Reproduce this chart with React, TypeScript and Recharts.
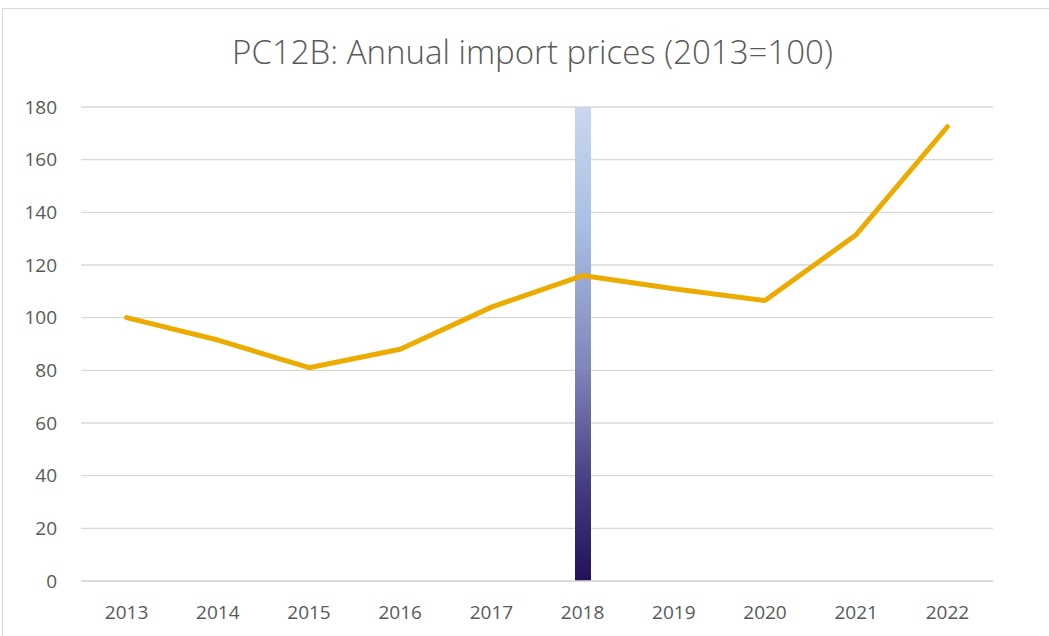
import { ComposedChart, XAxis, YAxis, CartesianGrid, Line, Bar } from "recharts";

const years = ["2013", "2014", "2015", "2016", "2017", "2018", "2019", "2020", "2021", "2022"];
const importPrices = [100, 91.5, 81, 88, 104, 116, 111, 106.5, 131.5, 172.5];
// highlight column drawn at 2018 only
const marker = [null, null, null, null, null, 180, null, null, null, null];
const yTicks = [0, 20, 40, 60, 80, 100, 120, 140, 160, 180];

const data = years.map((year, i) => ({
  year,
  price: importPrices[i],
  marker: marker[i],
}));

const tickStyle = { fill: "#595959", fontSize: 19, fontFamily: "Open Sans" };

export default function App() {
  return (
    <div style={{ position: "absolute", left: 0, top: 0, width: 1049, height: 636, background: "#fff" }}>
      <div
        style={{
          position: "absolute",
          left: 2,
          top: 8,
          width: 1060,
          height: 640,
          border: "1px solid #d9d9d9",
        }}
      />
      <div
        style={{
          position: "absolute",
          left: 0,
          top: 30,
          width: 1065,
          textAlign: "center",
          fontFamily: "Open Sans",
          fontWeight: 300,
          fontSize: 33,
          color: "#595959",
          lineHeight: "44px",
        }}
      >
        PC12B: Annual import prices (2013=100)
      </div>
      <div style={{ position: "absolute", left: 0, top: 0 }}>
        <ComposedChart
          width={1049}
          height={636}
          data={data}
          margin={{ top: 107, right: 56, bottom: 0, left: 0 }}
        >
          <defs>
            <linearGradient id="markerFill" x1="0" y1="0" x2="0" y2="1">
              <stop offset="0%" stopColor="#C9D7EF" />
              <stop offset="25%" stopColor="#AABFE5" />
              <stop offset="55%" stopColor="#7F86BA" />
              <stop offset="80%" stopColor="#453C82" />
              <stop offset="100%" stopColor="#21115A" />
            </linearGradient>
          </defs>
          <CartesianGrid vertical={false} stroke="#d9d9d9" strokeWidth={1.3} />
          <XAxis
            dataKey="year"
            height={55}
            axisLine={{ stroke: "#d9d9d9", strokeWidth: 1.3 }}
            tickLine={false}
            tickMargin={19}
            tick={tickStyle}
          />
          <YAxis
            width={81}
            domain={[0, 180]}
            ticks={yTicks}
            axisLine={false}
            tickLine={false}
            tickMargin={18}
            tick={tickStyle}
          />
          <Bar dataKey="marker" barSize={16} fill="url(#markerFill)" isAnimationActive={false} />
          <Line
            type="linear"
            dataKey="price"
            stroke="#EBAB00"
            strokeWidth={5}
            strokeLinecap="round"
            strokeLinejoin="round"
            dot={false}
            isAnimationActive={false}
          />
        </ComposedChart>
      </div>
    </div>
  );
}
